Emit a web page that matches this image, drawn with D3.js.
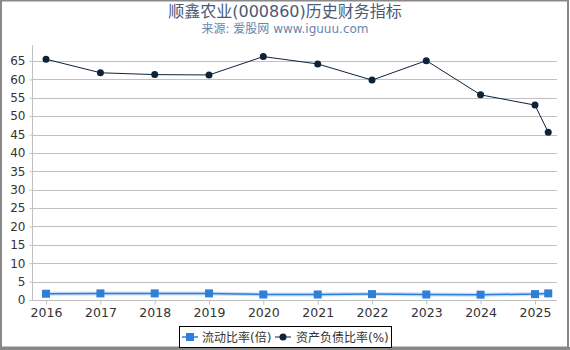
<!DOCTYPE html>
<html>
<head>
<meta charset="utf-8">
<script src="https://cdn.jsdelivr.net/npm/d3@7"></script>
<style>
  body { margin: 0; background: #fff; }
  text { font-family: "DejaVu Sans", "Noto Sans CJK SC", sans-serif; }
</style>
</head>
<body>
<div id="chart"></div>
<script>
// data
const dates = ["2016-01-01", "2017-01-01", "2018-01-01", "2019-01-01", "2020-01-01",
               "2021-01-01", "2022-01-01", "2023-01-01", "2024-01-01", "2025-01-01", "2025-03-31"];
const current_ratio = [1.7, 1.8, 1.8, 1.8, 1.5, 1.5, 1.6, 1.5, 1.45, 1.6, 1.8];
const debt_ratio = [65.5, 61.8, 61.3, 61.2, 66.2, 64.2, 59.8, 65.1, 55.8, 53.0, 45.6];
const year_ticks = [2016, 2017, 2018, 2019, 2020, 2021, 2022, 2023, 2024, 2025];
const y_ticks = [0, 5, 10, 15, 20, 25, 30, 35, 40, 45, 50, 55, 60, 65];
const series_names = ["流动比率(倍)", "资产负债比率(%)"];

const width = 570, height = 350;
const plot_left = 33, plot_right = 557, plot_top = 45, plot_bottom = 300;

const svg = d3.select("#chart").append("svg")
  .attr("width", width)
  .attr("height", height);

// outer frame
svg.append("rect")
  .attr("x", 1).attr("y", 0.5)
  .attr("width", width - 3).attr("height", height - 3)
  .attr("fill", "none")
  .attr("stroke", "#888").attr("stroke-width", 2);
svg.append("line")
  .attr("x1", 0).attr("x2", width).attr("y1", 348.5).attr("y2", 348.5)
  .attr("stroke", "#888").attr("stroke-width", 3);

// titles
svg.append("text")
  .attr("x", 285).attr("y", 17)
  .attr("text-anchor", "middle")
  .attr("font-size", 16)
  .attr("fill", "#4a5a78")
  .text("顺鑫农业(000860)历史财务指标");
svg.append("text")
  .attr("x", 285).attr("y", 33)
  .attr("text-anchor", "middle")
  .attr("font-size", 12)
  .attr("fill", "#6a86aa")
  .text("来源: 爱股网 www.iguuu.com");

const parse = d3.timeParse("%Y-%m-%d");
const points = dates.map((d, i) => ({date: parse(d), cr: current_ratio[i], dr: debt_ratio[i]}));

// time scale: Jan 1 of each year sits on its tick
const x = d3.scaleTime()
  .domain([new Date(2016, 0, 1), new Date(2025, 0, 1)])
  .range([46, 535]);

const y = d3.scaleLinear()
  .domain([0, 65])
  .range([plot_bottom, 61]);

// grid
svg.append("g")
  .selectAll("line")
  .data(y_ticks.slice(1))
  .enter().append("line")
    .attr("x1", plot_left).attr("x2", plot_right)
    .attr("y1", d => Math.round(y(d)) + 0.5)
    .attr("y2", d => Math.round(y(d)) + 0.5)
    .attr("stroke", "#c0c0c0");

// y axis
const yAxis = svg.append("g")
  .attr("transform", "translate(" + (plot_left - 0.5) + ",0)")
  .call(d3.axisLeft(y).tickValues(y_ticks).tickSize(3).tickPadding(4));
yAxis.select(".domain").attr("stroke", "#c0c0c0").attr("d", "M0," + plot_top + "V300.5");
yAxis.selectAll(".tick line").attr("stroke", "#c0c0c0");
yAxis.selectAll("text").attr("font-size", 12).attr("fill", "#333")
  .attr("font-family", "DejaVu Sans, sans-serif");

// x axis
const xAxis = svg.append("g")
  .attr("transform", "translate(0,300.5)")
  .call(d3.axisBottom(x)
    .tickValues(year_ticks.map(yr => new Date(yr, 0, 1)))
    .tickFormat(d3.timeFormat("%Y"))
    .tickSize(4).tickPadding(4));
xAxis.select(".domain").attr("stroke", "#c0c0c0").attr("d", "M" + plot_left + ",0H" + plot_right);
xAxis.selectAll(".tick line").attr("stroke", "#c0c0c0");
xAxis.selectAll("text").attr("font-size", 12.5).attr("fill", "#333")
  .attr("font-family", "DejaVu Sans, sans-serif");

// current ratio line (blue squares)
const crLine = d3.line().x(d => x(d.date)).y(d => y(d.cr));
svg.append("path")
  .datum(points)
  .attr("d", crLine)
  .attr("fill", "none")
  .attr("stroke", "#2f7ed8").attr("stroke-opacity", 0.25).attr("stroke-width", 4);
svg.append("path")
  .datum(points)
  .attr("d", crLine)
  .attr("fill", "none")
  .attr("stroke", "#2f7ed8").attr("stroke-width", 1.5);
svg.append("g")
  .selectAll("rect")
  .data(points)
  .enter().append("rect")
    .attr("x", d => x(d.date) - 4)
    .attr("y", d => y(d.cr) - 4)
    .attr("width", 8).attr("height", 8)
    .attr("fill", "#2f7ed8");

// debt ratio line (dark circles)
const drLine = d3.line().x(d => x(d.date)).y(d => y(d.dr));
svg.append("path")
  .datum(points)
  .attr("d", drLine)
  .attr("fill", "none")
  .attr("stroke", "#0d233a").attr("stroke-width", 1);
svg.append("g")
  .selectAll("circle")
  .data(points)
  .enter().append("circle")
    .attr("cx", d => x(d.date))
    .attr("cy", d => y(d.dr))
    .attr("r", 3.5)
    .attr("fill", "#0d233a");

// legend
const legend = svg.append("g");
legend.append("rect")
  .attr("x", 179.5).attr("y", 326.5)
  .attr("width", 212).attr("height", 21)
  .attr("fill", "#fff").attr("stroke", "#000").attr("stroke-width", 1);
legend.append("line")
  .attr("x1", 182).attr("x2", 198).attr("y1", 337).attr("y2", 337)
  .attr("stroke", "#2f7ed8").attr("stroke-width", 1.5);
legend.append("rect")
  .attr("x", 186).attr("y", 333).attr("width", 8).attr("height", 8)
  .attr("fill", "#2f7ed8");
legend.append("text")
  .attr("x", 202).attr("y", 341.5)
  .attr("font-size", 12).attr("fill", "#333")
  .text(series_names[0]);
legend.append("line")
  .attr("x1", 275).attr("x2", 291).attr("y1", 337).attr("y2", 337)
  .attr("stroke", "#0d233a").attr("stroke-width", 1);
legend.append("circle")
  .attr("cx", 283).attr("cy", 337).attr("r", 3.5)
  .attr("fill", "#0d233a");
legend.append("text")
  .attr("x", 296).attr("y", 341.5)
  .attr("font-size", 12).attr("fill", "#333")
  .text(series_names[1]);
</script>
</body>
</html>
